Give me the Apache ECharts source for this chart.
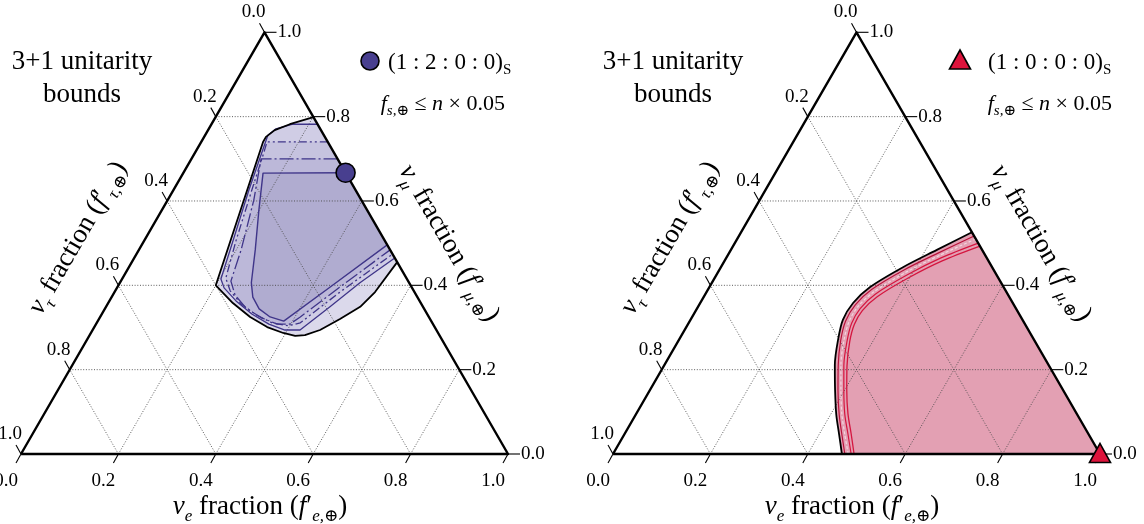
<!DOCTYPE html>
<html>
<head>
<meta charset="utf-8">
<script src="https://cdn.jsdelivr.net/npm/echarts@6/dist/echarts.min.js"></script>
<style>
  html, body { margin: 0; padding: 0; background: #fff; }
  #chart { width: 1144px; height: 524px; }
</style>
</head>
<body>
<div id="chart"></div>
<script>
// ticks on every side of the triangle
const ticks = [0, 0.2, 0.4, 0.6, 0.8, 1.0];
const tickLabels = ['0.0', '0.2', '0.4', '0.6', '0.8', '1.0'];

// all points are [nu_e fraction, nu_mu fraction], nu_tau = 1 - e - mu
// left panel, source (1:2:0:0)
const purpleBound = [[0.201,0.799],[0.161,0.782],[0.137,0.768],[0.127,0.752],[0.127,0.740],[0.200,0.400],[0.256,0.358],[0.308,0.325],[0.355,0.301],[0.395,0.287],[0.423,0.280],[0.442,0.282],[0.467,0.294],[0.495,0.320],[0.522,0.349],[0.535,0.384],[0.545,0.455]];
const purpleN4 = [[0.218,0.782],[0.167,0.782],[0.138,0.771],[0.129,0.756],[0.134,0.730],[0.155,0.626],[0.182,0.508],[0.203,0.415],[0.220,0.394],[0.260,0.363],[0.308,0.332],[0.355,0.308],[0.395,0.294],[0.426,0.294],[0.460,0.349],[0.493,0.406],[0.535,0.465]];
const purpleN3 = [[0.260,0.740],[0.135,0.740],[0.141,0.716],[0.161,0.626],[0.188,0.508],[0.212,0.417],[0.236,0.387],[0.274,0.356],[0.318,0.330],[0.360,0.311],[0.397,0.304],[0.418,0.311],[0.463,0.384],[0.526,0.474]];
const purpleN2 = [[0.300,0.700],[0.143,0.700],[0.177,0.602],[0.210,0.484],[0.226,0.410],[0.251,0.377],[0.289,0.346],[0.332,0.323],[0.372,0.308],[0.398,0.308],[0.411,0.325],[0.457,0.396],[0.516,0.484]];
const purpleN1 = [[0.333,0.667],[0.164,0.666],[0.199,0.579],[0.239,0.484],[0.270,0.406],[0.290,0.372],[0.317,0.344],[0.349,0.325],[0.382,0.315],[0.437,0.396],[0.504,0.496]];
const purplePoint = [0.333, 0.667];

// right panel, source (1:0:0:0)
const pinkBound = [[0.474,0.526],[0.423,0.484],[0.374,0.443],[0.330,0.396],[0.314,0.358],[0.313,0.318],[0.327,0.270],[0.350,0.211],[0.380,0.152],[0.412,0.093],[0.442,0.045],[0.470,0.0]];
const pinkN1 = [[0.483,0.517],[0.430,0.477],[0.380,0.437],[0.336,0.390],[0.321,0.354],[0.320,0.315],[0.333,0.269],[0.357,0.211],[0.386,0.152],[0.418,0.093],[0.447,0.046],[0.476,0.0]];
const pinkN2 = [[0.490,0.510],[0.435,0.471],[0.386,0.431],[0.343,0.384],[0.328,0.349],[0.328,0.312],[0.340,0.268],[0.363,0.210],[0.392,0.152],[0.423,0.094],[0.453,0.046],[0.483,0.0]];
const pinkN3 = [[0.500,0.500],[0.441,0.465],[0.392,0.425],[0.349,0.379],[0.335,0.345],[0.335,0.310],[0.347,0.267],[0.369,0.210],[0.398,0.152],[0.429,0.094],[0.459,0.047],[0.489,0.0]];
const pinkN4 = [[0.507,0.493],[0.447,0.458],[0.398,0.418],[0.356,0.373],[0.342,0.340],[0.342,0.307],[0.353,0.266],[0.376,0.209],[0.404,0.152],[0.435,0.095],[0.465,0.048],[0.495,0.0]];
const pinkPoint = [1.0, 0.0];

const SQ = Math.sqrt(3) / 2;
const FONT = '"Liberation Serif", "DejaVu Serif", serif';

// ternary -> plain x/y of the hidden cartesian axes
function toXY(p) {
  return [p[0] + p[1] / 2, p[1] * SQ];
}

const chart = echarts.init(document.getElementById('chart'));
const series = [];

function polygonSeries(g, pts, color, z) {
  return {
    type: 'custom', coordinateSystem: 'cartesian2d', xAxisIndex: g, yAxisIndex: g,
    z: z, silent: true,
    data: pts.map(toXY),
    renderItem: function (params, api) {
      if (params.dataIndex !== 0) return null;
      const p = pts.map(function (q) { return api.coord(toXY(q)); });
      return { type: 'polygon', shape: { points: p }, style: { fill: color } };
    }
  };
}

function lineSeries(g, pts, color, width, dash, z, smooth) {
  return {
    type: 'line', xAxisIndex: g, yAxisIndex: g, data: pts.map(toXY),
    symbol: 'none', clip: false, silent: true, z: z, smooth: smooth || false,
    lineStyle: { color: color, width: width, type: dash, join: 'round' }
  };
}

// dotted grid lines inside the triangle
const inner = ticks.slice(1, -1);
function gridSeries(g) {
  const segs = [];
  inner.forEach(function (t) {
    segs.push(toXY([0, t]).concat(toXY([1 - t, t])));
    segs.push(toXY([t, 0]).concat(toXY([t, 1 - t])));
    segs.push(toXY([1 - t, 0]).concat(toXY([0, 1 - t])));
  });
  return {
    type: 'custom', coordinateSystem: 'cartesian2d', xAxisIndex: g, yAxisIndex: g,
    z: 5, silent: true, data: segs,
    renderItem: function (params, api) {
      const a = api.coord([api.value(0), api.value(1)]);
      const b = api.coord([api.value(2), api.value(3)]);
      return {
        type: 'line', shape: { x1: a[0], y1: a[1], x2: b[0], y2: b[1] },
        style: { stroke: '#4a4a4a', lineWidth: 0.9, lineDash: [1, 1.7] }
      };
    }
  };
}

// ticks + labels: e on the bottom, mu on the right, tau on the left
const tickStyle = {
  e:   { t: [-5, 9],  l: [-15, 27], a: 'center' },
  mu:  { t: [12, 0],  l: [13, 0],   a: 'left' },
  tau: { t: [-5, -9], l: [-11, -20], a: 'center' }
};
function tickSeries(g, axis) {
  const pos = ticks.map(function (t) {
    if (axis === 'e') return toXY([t, 0]);
    if (axis === 'mu') return toXY([1 - t, t]);
    return toXY([0, 1 - t]);
  });
  const s = tickStyle[axis];
  return {
    type: 'custom', coordinateSystem: 'cartesian2d', xAxisIndex: g, yAxisIndex: g,
    z: 8, silent: true, data: pos,
    renderItem: function (params, api) {
      const b = api.coord([api.value(0), api.value(1)]);
      return {
        type: 'group',
        children: [
          { type: 'line', shape: { x1: b[0], y1: b[1], x2: b[0] + s.t[0], y2: b[1] + s.t[1] },
            style: { stroke: '#000', lineWidth: 1.1 } },
          { type: 'text', x: b[0] + s.l[0], y: b[1] + s.l[1],
            style: { text: tickLabels[params.dataIndex], fontSize: 19, fontFamily: FONT, fill: '#000',
                     align: s.a, verticalAlign: 'middle', textAlign: s.a, textVerticalAlign: 'middle' } }
        ]
      };
    }
  };
}

const frame = [[0, 0], [1, 0], [0, 1], [0, 0]];

[0, 1].forEach(function (g) {
  series.push(gridSeries(g));
  series.push(lineSeries(g, frame, '#000', 2.4, 'solid', 9));
  series.push(tickSeries(g, 'e'));
  series.push(tickSeries(g, 'mu'));
  series.push(tickSeries(g, 'tau'));
});

// left panel regions
const purple = '#3f3589';
series.push(polygonSeries(0, purpleBound, '#dbd9eb', 1));
series.push(polygonSeries(0, purpleN4, '#d0cde5', 2));
series.push(polygonSeries(0, purpleN3, '#c6c3df', 3));
series.push(polygonSeries(0, purpleN2, '#bcb8d9', 3));
series.push(polygonSeries(0, purpleN1, '#b0acd0', 4));
series.push(lineSeries(0, purpleN4, purple, 1.3, 'solid', 6));
series.push(lineSeries(0, purpleN3, purple, 1.3, [8, 3, 2, 3, 2, 3], 6));
series.push(lineSeries(0, purpleN2, purple, 1.3, [14, 3, 2, 3], 6));
series.push(lineSeries(0, purpleN1, purple, 1.4, 'solid', 6));
series.push(lineSeries(0, purpleBound, '#000', 1.8, 'solid', 7));

// right panel regions
const crimson = '#d4163f';
series.push(polygonSeries(1, pinkBound.concat([[1, 0]]), '#e3a0b3', 1));
series.push(lineSeries(1, pinkN4, crimson, 1.3, 'solid', 6, 0.3));
series.push(lineSeries(1, pinkN3, crimson, 1.2, 'solid', 6, 0.3));
series.push(lineSeries(1, pinkN2, '#f4d4de', 1.2, [3, 2], 6, 0.3));
series.push(lineSeries(1, pinkN1, '#b8123a', 1.2, 'solid', 6, 0.3));
series.push(lineSeries(1, pinkBound, '#000', 1.8, 'solid', 7, 0.3));

series.push({
  type: 'scatter', xAxisIndex: 0, yAxisIndex: 0, data: [toXY(purplePoint)], z: 12, clip: false,
  symbol: 'circle', symbolSize: 19, silent: true,
  itemStyle: { color: '#483f8f', borderColor: '#000', borderWidth: 1.6, opacity: 1 }
});
series.push({
  type: 'scatter', xAxisIndex: 1, yAxisIndex: 1, data: [toXY(pinkPoint)], z: 12, clip: false,
  symbol: 'triangle', symbolSize: [21, 19], symbolOffset: [0, -1], silent: true,
  itemStyle: { color: '#dc143c', borderColor: '#000', borderWidth: 1.6, opacity: 1 }
});

const axisOpt = function (g, max) {
  return { type: 'value', gridIndex: g, min: 0, max: max, show: false };
};

const richBase = {
  it:  { fontFamily: FONT, fontStyle: 'italic', fontSize: 27, lineHeight: 36 },
  sub: { fontFamily: FONT, fontStyle: 'italic', fontSize: 17, lineHeight: 17, verticalAlign: 'bottom' },
  rsub: { fontFamily: FONT, fontSize: 15, lineHeight: 15, verticalAlign: 'bottom' },
  sit: { fontFamily: FONT, fontStyle: 'italic', fontSize: 22, lineHeight: 30 },
  ssub: { fontFamily: FONT, fontStyle: 'italic', fontSize: 15, lineHeight: 15, verticalAlign: 'bottom' }
};

function label(x, y, text, size, align, rot, lh) {
  return {
    type: 'text', x: x, y: y, rotation: rot || 0, silent: true,
    style: {
      text: text, rich: richBase, fontFamily: FONT, fontSize: size, lineHeight: lh || 36, fill: '#000',
      align: align, verticalAlign: 'middle', textAlign: align, textVerticalAlign: 'middle'
    }
  };
}

const graphics = [];
[[0, 0], [1, 592]].forEach(function (pp) {
  const dx = pp[1];
  graphics.push(label(260 + dx, 507, '{it|ν}{sub|e} fraction ({it|f}′{sub|e,⊕})', 27, 'center', 0));
  graphics.push(label(78 + dx, 238, '{it|ν}{sub|τ} fraction ({it|f}′{sub|τ,⊕})', 27, 'center', Math.PI / 3));
  graphics.push(label(449 + dx, 243, '{it|ν}{sub|μ} fraction ({it|f}′{sub|μ,⊕})', 27, 'center', -Math.PI / 3));
});
graphics.push(label(82, 78, '3+1 unitarity\nbounds', 27, 'center', 0, 33));
graphics.push(label(673, 78, '3+1 unitarity\nbounds', 27, 'center', 0, 33));

graphics.push(label(388, 63, '(1 : 2 : 0 : 0){rsub|S}', 23, 'left', 0, 30));
graphics.push(label(505, 104, '{sit|f}{ssub|s,⊕} ≤ {sit|n} × 0.05', 22, 'right', 0, 30));
graphics.push(label(988, 63, '(1 : 0 : 0 : 0){rsub|S}', 23, 'left', 0, 30));
graphics.push(label(1112, 104, '{sit|f}{ssub|s,⊕} ≤ {sit|n} × 0.05', 22, 'right', 0, 30));

graphics.push({
  type: 'circle', shape: { cx: 370, cy: 61, r: 9 }, silent: true,
  style: { fill: '#483f8f', stroke: '#000', lineWidth: 1.6 }
});
graphics.push({
  type: 'polygon', shape: { points: [[960, 50], [970.5, 69], [949.5, 69]] }, silent: true,
  style: { fill: '#dc143c', stroke: '#000', lineWidth: 1.6 }
});

chart.setOption({
  animation: false,
  backgroundColor: '#fff',
  grid: [
    { left: 21, top: 32.3, width: 487, height: 421.7 },
    { left: 613, top: 32.3, width: 487, height: 421.7 }
  ],
  xAxis: [axisOpt(0, 1), axisOpt(1, 1)],
  yAxis: [axisOpt(0, SQ), axisOpt(1, SQ)],
  series: series,
  graphic: graphics
});
</script>
</body>
</html>
